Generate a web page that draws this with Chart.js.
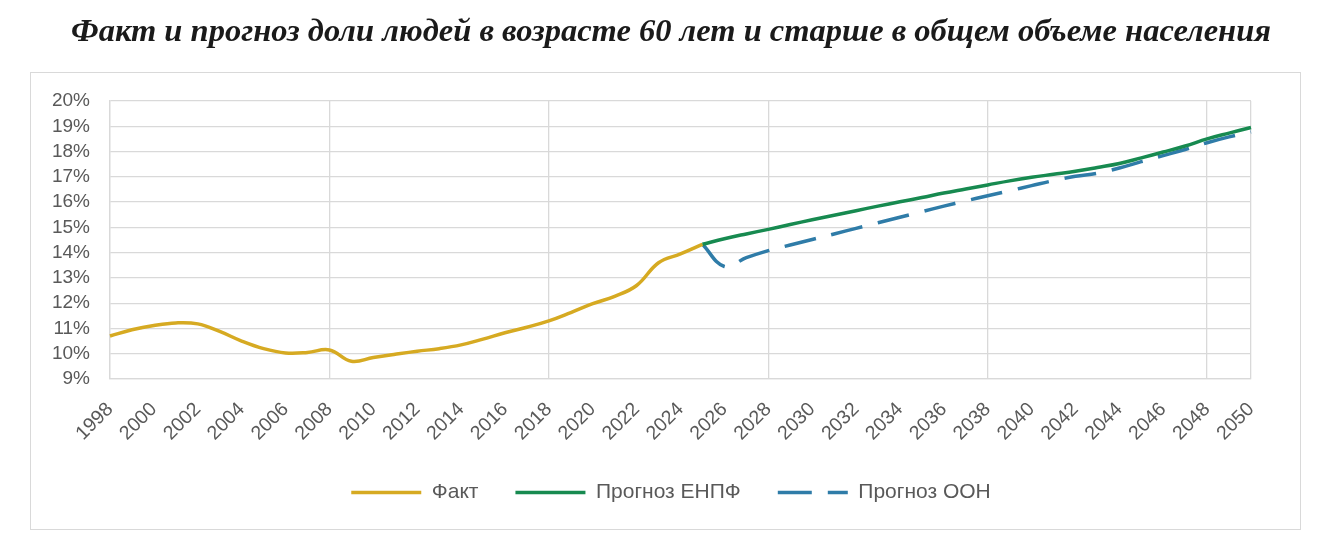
<!DOCTYPE html>
<html>
<head>
<meta charset="utf-8">
<script src="https://cdn.jsdelivr.net/npm/chart.js@4.4.1/dist/chart.umd.min.js"></script>
<style>
  html, body { margin: 0; padding: 0; background: #ffffff; }
  #wrap { position: relative; width: 1337px; height: 555px; }
  #frame { position: absolute; left: 30px; top: 72px; width: 1271px; height: 458px; border: 1px solid #d9d9d9; box-sizing: border-box; }
  canvas { position: absolute; left: 0; top: 0; }
</style>
</head>
<body>
<div id="wrap">
  <div id="frame"></div>
  <canvas id="c" width="1337" height="555"></canvas>
</div>
<script>
const titleText = 'Факт и прогноз доли людей в возрасте 60 лет и старше в общем объеме населения';

const years = [
  '1998','1999','2000','2001','2002','2003','2004','2005','2006','2007',
  '2008','2009','2010','2011','2012','2013','2014','2015','2016','2017',
  '2018','2019','2020','2021','2022','2023','2024','2025','2026','2027',
  '2028','2029','2030','2031','2032','2033','2034','2035','2036','2037',
  '2038','2039','2040','2041','2042','2043','2044','2045','2046','2047',
  '2048','2049','2050'
];

// Факт, 1998–2025 (%)
const factValues = [
  10.70, 10.95, 11.12, 11.22, 11.18, 10.88, 10.50, 10.20, 10.03, 10.05,
  10.15, 9.70, 9.85, 9.98, 10.10, 10.20, 10.35, 10.58, 10.83, 11.05,
  11.30, 11.63, 11.98, 12.27, 12.70, 13.60, 13.95, 14.33
];

// Прогноз ЕНПФ, 2025–2050 (%)
const enpfValues = [
  14.33, 14.55, 14.74, 14.92, 15.11, 15.30, 15.48, 15.66, 15.84, 16.01,
  16.18, 16.36, 16.52, 16.68, 16.84, 16.98, 17.10, 17.22, 17.37, 17.53,
  17.75, 17.98, 18.22, 18.50, 18.73, 18.95
];

// Прогноз ООН, 2025–2050 (%)
const oonValues = [
  14.33, 13.45, 13.80, 14.08, 14.30, 14.52, 14.74, 14.96, 15.18, 15.40,
  15.62, 15.84, 16.05, 16.25, 16.45, 16.65, 16.85, 17.02, 17.14, 17.35,
  17.60, 17.84, 18.08, 18.35, 18.58, 18.78
];

const yTicks = [9, 10, 11, 12, 13, 14, 15, 16, 17, 18, 19, 20];

const seriesNames = ['Факт', 'Прогноз ЕНПФ', 'Прогноз ООН'];

// align series onto the full year axis
const forecastStart = years.indexOf('2025');
const factData = years.map((y, i) => i < factValues.length ? factValues[i] : null);
const enpfData = years.map((y, i) => i >= forecastStart ? enpfValues[i - forecastStart] : null);
const oonData = years.map((y, i) => i >= forecastStart ? oonValues[i - forecastStart] : null);

const sansFamily = "'Liberation Sans', Arial, sans-serif";
const gridColor = '#d9d9d9';
const textColor = '#595959';

new Chart(document.getElementById('c'), {
  type: 'line',
  data: {
    labels: years,
    datasets: [
      { label: seriesNames[0], data: factData, borderColor: '#d6aa22', backgroundColor: '#d6aa22',
        borderWidth: 3.5, pointRadius: 0, tension: 0.4, fill: false },
      { label: seriesNames[1], data: enpfData, borderColor: '#178a50', backgroundColor: '#178a50',
        borderWidth: 3.5, pointRadius: 0, tension: 0.4, fill: false },
      { label: seriesNames[2], data: oonData, borderColor: '#2f7ca8', backgroundColor: '#2f7ca8',
        borderWidth: 3.5, borderDash: [32, 16], pointRadius: 0, tension: 0.4, fill: false }
    ]
  },
  options: {
    responsive: false,
    animation: false,
    layout: { padding: { left: 45, right: 40, top: 0, bottom: 42 } },
    plugins: {
      title: {
        display: true,
        text: titleText,
        color: '#1a1a1a',
        font: { family: "'Liberation Serif', 'DejaVu Serif', serif", size: 32.5, weight: 'bold', style: 'italic' },
        padding: { top: 13, bottom: 49 }
      },
      legend: {
        position: 'bottom',
        labels: {
          usePointStyle: true,
          pointStyle: 'line',
          pointStyleWidth: 70,
          color: textColor,
          font: { family: sansFamily, size: 21 },
          padding: 37,
          generateLabels: (chart) => {
            const items = Chart.defaults.plugins.legend.labels.generateLabels(chart);
            return items.map((it) => {
              const ds = chart.data.datasets[it.datasetIndex];
              it.strokeStyle = ds.borderColor;
              it.fillStyle = ds.borderColor;
              it.lineWidth = 3.5;
              it.lineDash = ds.borderDash ? [34, 16] : [];
              it.lineCap = 'butt';
              it.pointStyle = 'line';
              return it;
            });
          }
        }
      },
      tooltip: { enabled: false }
    },
    scales: {
      x: {
        type: 'category',
        offset: false,
        grid: {
          drawTicks: false,
          color: (ctx) => (ctx.index % 10 === 0 || ctx.index === years.length - 1) ? gridColor : 'rgba(0,0,0,0)',
          lineWidth: 1.3
        },
        border: { color: gridColor, width: 1.3 },
        ticks: {
          autoSkip: false,
          minRotation: 45,
          maxRotation: 45,
          padding: 19,
          color: textColor,
          font: { family: sansFamily, size: 19.5 },
          callback: function (value, index) { return index % 2 === 0 ? years[index] : ''; }
        },
        afterFit: (scale) => { scale.height = 66; scale.paddingLeft = 0; scale.paddingRight = 0; }
      },
      y: {
        min: 9,
        max: 20,
        afterBuildTicks: (scale) => { scale.ticks = yTicks.map(v => ({ value: v })); },
        grid: { drawTicks: false, color: gridColor, lineWidth: 1.3 },
        border: { color: gridColor, width: 1.3 },
        ticks: {
          autoSkip: false,
          padding: 20,
          color: textColor,
          font: { family: sansFamily, size: 19 },
          callback: (v) => v + '%'
        },
        afterFit: (scale) => { scale.width = 65; }
      },
      yRight: {
        type: 'linear',
        position: 'right',
        display: true,
        grid: { display: false, drawTicks: false },
        border: { display: false },
        ticks: { display: false },
        afterFit: (scale) => { scale.width = 46; }
      }
    }
  }
});
</script>
</body>
</html>
